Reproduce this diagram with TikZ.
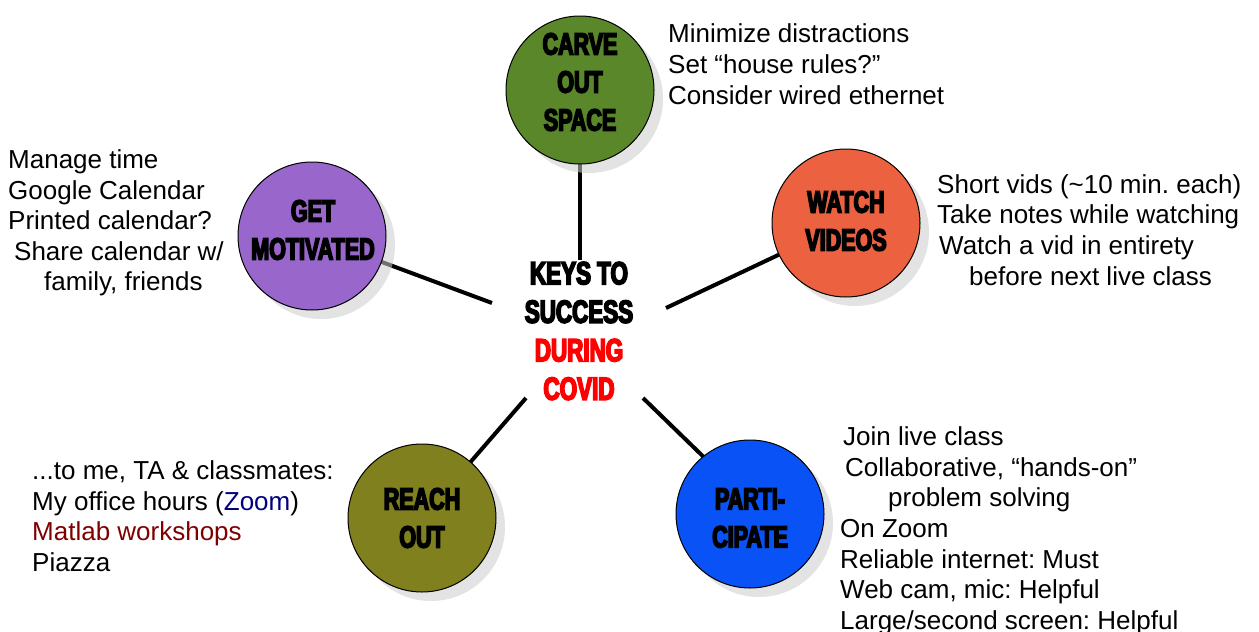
\documentclass[tikz,border=0pt]{standalone}
\usepackage{fontspec}
\setmainfont{Liberation Sans}
\newfontfamily\impactfont[FakeStretch=0.70,FakeBold=5,BoldFeatures={FakeBold=5}]{Liberation Sans}
\usetikzlibrary{calc}
\frenchspacing
\pgfdeclarelayer{bglayer}
\pgfdeclarelayer{shadlayer}
\pgfsetlayers{bglayer,shadlayer,main}
\definecolor{cgreen}{RGB}{91,135,43}
\definecolor{cpurple}{RGB}{153,102,204}
\definecolor{corange}{RGB}{236,98,64}
\definecolor{colive}{RGB}{128,128,30}
\definecolor{cblue}{RGB}{8,82,246}
\definecolor{cnavy}{RGB}{0,0,128}
\definecolor{cdred}{RGB}{128,0,0}
\definecolor{cred}{RGB}{255,0,0}
\tikzset{
  bubble/.style={circle, draw=black, line width=1pt, minimum size=148pt, inner sep=0pt},
  dropshad/.style={fill=black!20, opacity=0.55},
  conn/.style={line width=4pt},
  ctext/.style={font=\impactfont\bfseries\fontsize{30.7}{38}\selectfont, align=center, inner sep=0pt},
  keytext/.style={font=\impactfont\bfseries\fontsize{32}{38.5}\selectfont, align=center, inner sep=0pt},
  btext/.style={font=\fontsize{26}{31}\selectfont, anchor=base west, inner sep=0pt}
}
\begin{document}
\frenchspacing
\begin{tikzpicture}[x=1pt,y=-1pt]
\useasboundingbox (0,0) rectangle (1259,632);
% circles
\node[bubble, fill=cgreen]  (carve) at (580,90) {};
\node[bubble, fill=cpurple] (get)   at (312,236) {};
\node[bubble, fill=corange] (watch) at (846,223) {};
\node[bubble, fill=colive]  (reach) at (422,518) {};
\node[bubble, fill=cblue]   (parti) at (750,514) {};
% circle texts
\node[ctext] (carvet) at (580,82) {CARVE\\OUT\\SPACE};
\node[ctext] (gett)   at (313,230) {GET\\MOTIVATED};
\node[ctext] (watcht) at (846,221) {WATCH\\VIDEOS};
\node[ctext] (reacht) at (422,518) {REACH\\OUT};
\node[ctext] (partit) at (750,518) {PARTI-\\CIPATE};
% center text
\node[keytext] (keys) at (579,331) {KEYS TO\\SUCCESS\\\textcolor{cred}{DURING}\\\textcolor{cred}{COVID}};
% free ends of connectors
\coordinate (ecarve) at (580,260);
\coordinate (eget)   at (492,303);
\coordinate (ewatch) at (666,308);
\coordinate (ereach) at (526,398);
\coordinate (eparti) at (643,398);
\begin{pgfonlayer}{bglayer}
  \draw[conn] (carve.center) -- (ecarve);
  \draw[conn] (get.center) -- (eget);
  \draw[conn] (watch.center) -- (ewatch);
  \draw[conn] (reach.center) -- (ereach);
  \draw[conn] ($(parti.center)+(0,-12)$) -- (eparti);
\end{pgfonlayer}
\begin{pgfonlayer}{shadlayer}
  \fill[dropshad] ($(carve.center)+(9,9)$) circle (74);
  \fill[dropshad] ($(get.center)+(9,9)$) circle (74);
  \fill[dropshad] ($(watch.center)+(9,9)$) circle (74);
  \fill[dropshad] ($(reach.center)+(9,9)$) circle (74);
  \fill[dropshad] ($(parti.center)+(9,9)$) circle (74);
\end{pgfonlayer}
% carve texts
\node[btext] (c1) at (668,42) {Minimize distractions};
\node[btext] (c2) at (668,73) {Set “house rules?”};
\node[btext] (c3) at (668,104) {Consider wired ethernet};
% get texts
\node[btext] (g1) at (8,168) {Manage time};
\node[btext] (g2) at (8,199) {Google Calendar};
\node[btext] (g3) at (8,229) {Printed calendar?};
\node[btext] (g4) at (14,260) {Share calendar w/};
\node[btext] (g5) at (44,290) {family, friends};
% watch texts
\node[btext] (w1) at (937,193) {Short vids (\textasciitilde10 min. each)};
\node[btext] (w2) at (937,223) {Take notes while watching};
\node[btext] (w3) at (939,254) {Watch a vid in entirety};
\node[btext] (w4) at (969,285) {before next live class};
% reach texts
\node[btext] (r1) at (32,479) {...to me, TA \& classmates:};
\node[btext] (r2) at (32,510) {My office hours (\textcolor{cnavy}{Zoom})};
\node[btext] (r3) at (32,540) {\textcolor{cdred}{Matlab workshops}};
\node[btext] (r4) at (32,571) {Piazza};
% participate texts
\node[btext] (p1) at (843,445) {Join live class};
\node[btext] (p2) at (845,476) {Collaborative, “hands-on”};
\node[btext] (p3) at (888,506) {problem solving};
\node[btext] (p4) at (840,537) {On Zoom};
\node[btext] (p5) at (840,568) {Reliable internet: Must};
\node[btext] (p6) at (840,598) {Web cam, mic: Helpful};
\node[btext] (p7) at (840,629) {Large/second screen: Helpful};
\end{tikzpicture}
\end{document}
